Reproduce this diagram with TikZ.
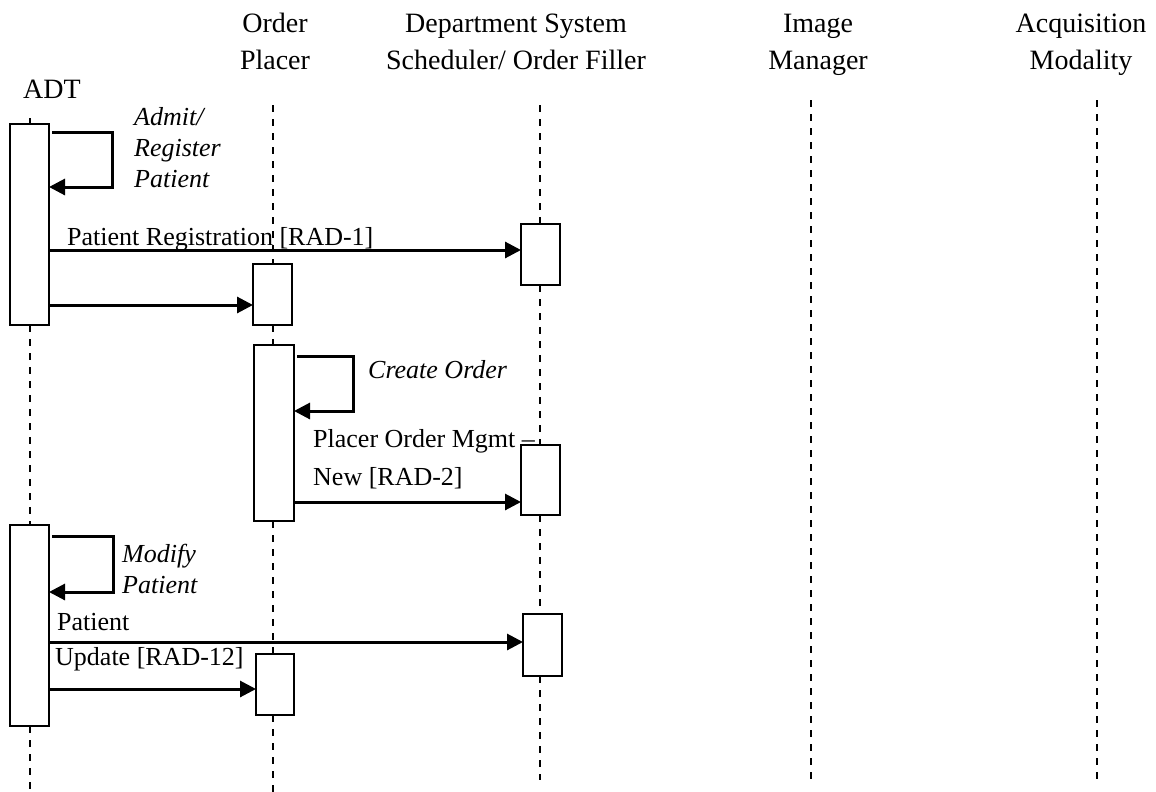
\documentclass[tikz,border=0pt]{standalone}
\usepackage{fontspec}
\setmainfont{Liberation Serif}
\usetikzlibrary{arrows.meta}
\begin{document}
\begin{tikzpicture}[x=1pt,y=-1pt,
  actbox/.style={draw, line width=2.5pt, fill=white, inner sep=0pt, outer sep=0pt},
  msg/.style={line width=3pt, -{Triangle[length=16pt,width=16pt]}},
  life/.style={line width=2pt, dash pattern=on 7pt off 7pt},
  hdr/.style={font=\fontsize{28}{37}\selectfont, align=center, inner sep=0pt, anchor=base},
  lbl/.style={font=\fontsize{26}{32}\selectfont, inner sep=0pt, anchor=base west, align=left},
  ilbl/.style={lbl, font=\fontsize{26}{32}\selectfont\itshape}]
\useasboundingbox (0,0) rectangle (1156,792);

% headers (base anchor = baseline of last line)
\node[hdr] (hadt) at (52,98) {ADT};
\node[hdr] (hop) at (275,70) {Order\\Placer};
\node[hdr] (hdss) at (516,70) {Department System\\Scheduler/ Order Filler};
\node[hdr] (him) at (818,70) {Image\\Manager};
\node[hdr] (ham) at (1081,70) {Acquisition\\Modality};

% lifeline ends
\coordinate (adtT) at (30,118);  \coordinate (adtB) at (30,792);
\coordinate (opT) at (273,105);  \coordinate (opB) at (273,792);
\coordinate (dsT) at (540,105);  \coordinate (dsB) at (540,780);
\coordinate (imT) at (811,100);  \coordinate (imB) at (811,780);
\coordinate (amT) at (1097,100); \coordinate (amB) at (1097,780);

% activation boxes
\node[actbox, minimum width=39pt, minimum height=201pt] (a1) at (29.5,224.5) {};
\node[actbox, minimum width=39pt, minimum height=201pt] (a2) at (29.5,625.5) {};
\node[actbox, minimum width=39pt, minimum height=61pt]  (o1) at (272.5,294.5) {};
\node[actbox, minimum width=40pt, minimum height=176pt] (o2) at (274,433) {};
\node[actbox, minimum width=38pt, minimum height=61pt]  (o3) at (275,684.5) {};
\node[actbox, minimum width=39pt, minimum height=61pt]  (d1) at (540.5,254.5) {};
\node[actbox, minimum width=39pt, minimum height=70pt]  (d2) at (540.5,480) {};
\node[actbox, minimum width=39pt, minimum height=62pt]  (d3) at (542.5,645) {};

% lifelines
\draw[life] (adtT) -- (adtT |- a1.north);
\draw[life] (adtT |- a1.south) -- (adtT |- a2.north);
\draw[life] (adtT |- a2.south) -- (adtB);
\draw[life] (opT) -- (opT |- o1.north);
\draw[life] (opT |- o1.south) -- (opT |- o2.north);
\draw[life] (opT |- o2.south) -- (opT |- o3.north);
\draw[life] (opT |- o3.south) -- (opB);
\draw[life] (dsT) -- (dsT |- d1.north);
\draw[life] (dsT |- d1.south) -- (dsT |- d2.north);
\draw[life] (dsT |- d2.south) -- (dsT |- d3.north);
\draw[life] (dsT |- d3.south) -- (dsB);
\draw[life] (imT) -- (imB);
\draw[life] (amT) -- (amB);

% message rows
\coordinate (m1) at (0,250);
\coordinate (m2) at (0,305);
\coordinate (m3) at (0,502);
\coordinate (m4) at (0,642);
\coordinate (m5) at (0,689);

\draw[msg] (a1.east |- m1) -- (d1.west |- m1);
\draw[msg] (a1.east |- m2) -- (o1.west |- m2);
\draw[msg] (o2.east |- m3) -- (d2.west |- m3);
\draw[msg] (a2.east |- m4) -- (d3.west |- m4);
\draw[msg] (a2.east |- m5) -- (o3.west |- m5);

% self messages
\coordinate (s1a) at (52,132);  \coordinate (s1b) at (112,132);  \coordinate (s1c) at (112,187);
\draw[msg] (s1a) -- (s1b) -- (s1c) -- (a1.east |- s1c);
\coordinate (s2a) at (297,356); \coordinate (s2b) at (353,356);  \coordinate (s2c) at (353,411);
\draw[msg] (s2a) -- (s2b) -- (s2c) -- (o2.east |- s2c);
\coordinate (s3a) at (52,536);  \coordinate (s3b) at (113,536);  \coordinate (s3c) at (113,592);
\draw[msg] (s3a) -- (s3b) -- (s3c) -- (a2.east |- s3c);

% labels (base anchor = baseline of last line)
\node[ilbl] (l1) at (134,187) {Admit/\\[-1pt]Register\\[-1pt]Patient};
\node[lbl] (l2) at (67,245) {Patient Registration [RAD-1]};
\node[ilbl] (l3) at (368,378) {Create Order};
\node[lbl] (l4) at (313,485) {Placer Order Mgmt –\\[6pt]New [RAD-2]};
\node[ilbl] (l5) at (122,593) {Modify\\[-1pt]Patient};
\node[lbl] (l6) at (57,630) {Patient};
\node[lbl] (l7) at (55,665) {Update [RAD-12]};
\end{tikzpicture}
\end{document}
